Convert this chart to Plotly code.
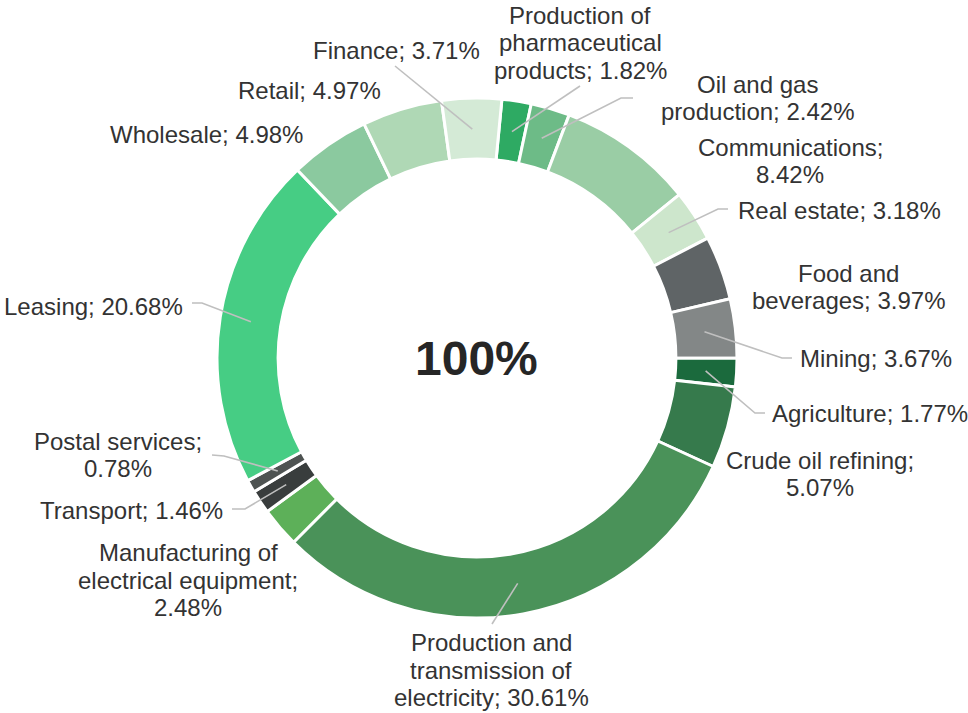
import math
import plotly.graph_objects as go

# ---------------- data ----------------
categories = [
    "Production of pharmaceutical products",
    "Oil and gas production",
    "Communications",
    "Real estate",
    "Food and beverages",
    "Mining",
    "Agriculture",
    "Crude oil refining",
    "Production and transmission of electricity",
    "Manufacturing of electrical equipment",
    "Transport",
    "Postal services",
    "Leasing",
    "Wholesale",
    "Retail",
    "Finance",
]
shares = [1.82, 2.42, 8.42, 3.18, 3.97, 3.67, 1.77, 5.07,
          30.61, 2.48, 1.46, 0.78, 20.68, 4.98, 4.97, 3.71]
colors = ["#2eaa63", "#6dbb87", "#9acda5", "#cde6cc", "#5f6466", "#838787",
          "#1b6a3d", "#367a4c", "#4a9259", "#5db059", "#393d3d", "#4e5352",
          "#46cd84", "#8bc99f", "#afd8b5", "#d4ead6"]
center_text = "100%"

# ---------------- layout constants ----------------
W, H = 968, 713
CX, CY, R_OUT = 477, 358, 260
HOLE = 0.765
ROTATION = 5.5
R_ANCHOR = 229

# words per line for each wrapped label
label_wrap = [[2, 1, 2], [3, 2], [1, 1], [3], [2, 2], [2], [2], [3, 1],
              [2, 2, 2], [2, 2, 1], [2], [2, 1], [2], [2], [2], [2]]
# label text centres (px)
label_pos = [(580, 43), (757, 98), (790, 161), (839, 210), (848, 287),
             (876, 358), (870, 413), (820, 474), (491, 670), (188, 580),
             (131, 510), (118, 455), (93, 306), (206, 135), (309, 91),
             (396, 50)]
# leader line: (start point, elbow point) in px, or None
leaders = [((580, 86), None), ((633, 98), (621, 98)), None,
           ((728, 209), (718, 209)), None, ((792, 358), (782, 358)),
           ((765, 413), (755, 413)), None, ((492, 624), None), None,
           ((232, 509), (245, 509)), ((212, 455), (224, 456)),
           ((192, 303), (202, 303)), None, None, ((395, 66), None)]
LINE_H = 27.5
FONT = "Liberation Sans, Arial, Helvetica, sans-serif"
TEXT_COLOR = "#333333"
LEADER_COLOR = "#bfbfbf"


def px(x):
    return x / W


def py(y):
    return 1 - y / H


fig = go.Figure()
fig.add_trace(go.Pie(
    labels=categories,
    values=shares,
    marker=dict(colors=colors, line=dict(color="white", width=3)),
    hole=HOLE,
    sort=False,
    direction="clockwise",
    rotation=ROTATION,
    textinfo="none",
    hoverinfo="label+percent",
    showlegend=False,
    domain=dict(x=[px(CX - R_OUT), px(CX + R_OUT)],
                y=[py(CY + R_OUT), py(CY - R_OUT)]),
))

annotations = []
shapes = []
total = sum(shares)
cum = 0.0
for i, (cat, v) in enumerate(zip(categories, shares)):
    mid = ROTATION + 360.0 * (cum + v / 2) / total
    cum += v
    ang = math.radians(mid)
    ax_ = CX + R_ANCHOR * math.sin(ang)
    ay_ = CY - R_ANCHOR * math.cos(ang)

    words = f"{cat}; {v:.2f}%".split()
    lines = []
    k = 0
    for n in label_wrap[i]:
        lines.append(" ".join(words[k:k + n]))
        k += n
    cx_, cy_ = label_pos[i]
    nl = len(lines)
    for j, ln in enumerate(lines):
        yy = cy_ + (j - (nl - 1) / 2) * LINE_H
        annotations.append(dict(
            x=px(cx_), y=py(yy), xref="paper", yref="paper",
            text=ln, showarrow=False, xanchor="center", yanchor="middle",
            font=dict(family=FONT, size=24, color=TEXT_COLOR)))

    ld = leaders[i]
    if ld is not None:
        (sx, sy), elbow = ld
        pts = [(sx, sy)]
        if elbow is not None:
            pts.append(elbow)
        pts.append((ax_, ay_))
        path = "M " + " L ".join(f"{px(a):.5f},{py(b):.5f}" for a, b in pts)
        shapes.append(dict(type="path", path=path, xref="paper", yref="paper",
                           line=dict(color=LEADER_COLOR, width=1.6)))

annotations.append(dict(
    x=px(CX - 1), y=py(CY + 1), xref="paper", yref="paper",
    text=f"<b>{center_text}</b>", showarrow=False,
    xanchor="center", yanchor="middle",
    font=dict(family=FONT, size=48, color="#262626")))

fig.update_layout(
    width=W, height=H,
    margin=dict(l=0, r=0, t=0, b=0),
    paper_bgcolor="white",
    plot_bgcolor="white",
    annotations=annotations,
    shapes=shapes,
)

fig.write_html("out.html", config={"displayModeBar": False},
               post_script="document.body.style.margin='0';")
